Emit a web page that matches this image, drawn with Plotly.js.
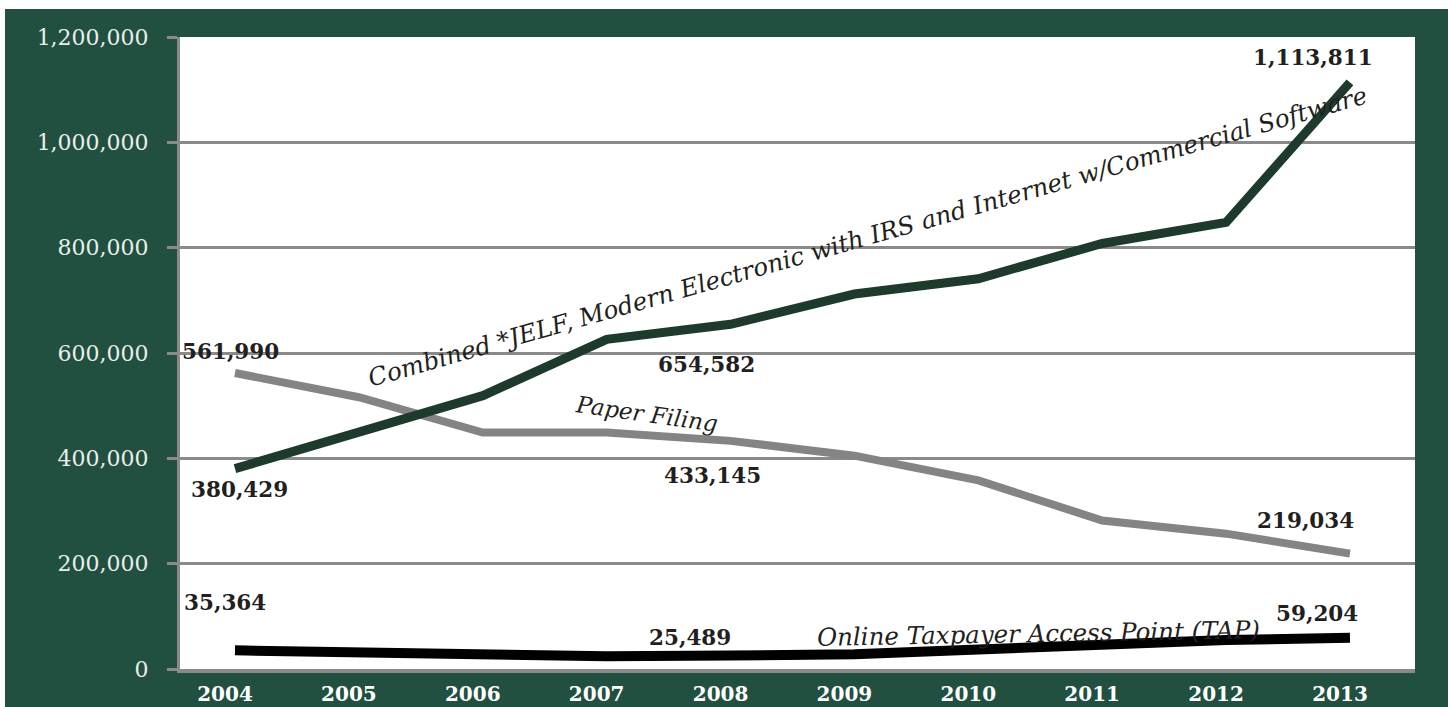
<!DOCTYPE html>
<html><head><meta charset="utf-8">
<script src="https://cdn.plot.ly/plotly-3.0.1.min.js"></script>
<style>
html,body{margin:0;padding:0;background:#ffffff;overflow:hidden;}
#chart{position:absolute;left:5px;top:9px;width:1443px;height:698px;}
</style>
</head><body><div id="chart"></div>
<script>
// ---- data ----
const years = [2004, 2005, 2006, 2007, 2008, 2009, 2010, 2011, 2012, 2013];
const combinedElectronic = [380429, 450000, 519000, 626000, 654582, 712000, 741000, 808000, 848000, 1113811];
const paperFiling = [561990, 516000, 449000, 449000, 433145, 405000, 358000, 282000, 257000, 219034];
const onlineTAP = [35364, 31000, 27000, 24000, 25489, 28000, 37000, 46000, 55000, 59204];
const yTickVals = [0, 200000, 400000, 600000, 800000, 1000000, 1200000];
const yTickText = ['0', '200,000', '400,000', '600,000', '800,000', '1,000,000', '1,200,000'];
const xTickText = ['2004', '2005', '2006', '2007', '2008', '2009', '2010', '2011', '2012', '2013'];
const seriesNames = [
  'Combined *JELF, Modern Electronic with IRS and Internet w/Commercial Software',
  'Paper Filing',
  'Online Taxpayer Access Point (TAP)'
];

// ---- styling ----
const GREEN_BG = '#214f40';
const SERIF = 'DejaVu Serif, Liberation Serif, serif';
const DARK = '#231f20';

const traces = [
  {x: years, y: paperFiling, mode: 'lines', line: {color: '#848484', width: 8}, name: seriesNames[1]},
  {x: years, y: combinedElectronic, mode: 'lines', line: {color: '#1d3a2c', width: 9}, name: seriesNames[0]},
  {x: years, y: onlineTAP, mode: 'lines', line: {color: '#000000', width: 10}, name: seriesNames[2]}
];

const series = [combinedElectronic, paperFiling, onlineTAP];
// [seriesIndex, pointIndex, xshift, yshift]
const valueLabels = [
  [0, 0, 4, -21], [0, 4, -24, -40], [0, 9, -37, 25],
  [1, 0, -5, 22], [1, 4, -18, -35], [1, 9, -44, 33],
  [2, 0, -10, 48], [2, 4, -41, 18], [2, 9, -33, 24]
];
const annotations = valueLabels.map(([s, i, dx, dy]) => ({
  x: years[i], y: series[s][i], xref: 'x', yref: 'y',
  text: series[s][i].toLocaleString('en-US'),
  showarrow: false, xshift: dx, yshift: dy,
  font: {family: SERIF, size: 21.5, color: DARK, weight: 700}
}));

// series name labels (paper coordinates)
const nameLabels = [
  {text: seriesNames[0], x: 0.557, y: 0.684, angle: -15.9, size: 24.5},
  {text: seriesNames[1], x: 0.378, y: 0.403, angle: 8, size: 23},
  {text: seriesNames[2], x: 0.695, y: 0.056, angle: -1, size: 24.5}
];
nameLabels.forEach(l => annotations.push({
  x: l.x, y: l.y, xref: 'paper', yref: 'paper', text: l.text, showarrow: false,
  textangle: l.angle, xanchor: 'center', yanchor: 'middle',
  font: {family: SERIF, size: l.size, color: DARK, style: 'italic'}
}));

const layout = {
  width: 1443, height: 698,
  paper_bgcolor: GREEN_BG, plot_bgcolor: '#ffffff',
  margin: {l: 175, r: 33, t: 28, b: 38},
  showlegend: false,
  xaxis: {
    range: [2003.556, 2013.525], tickvals: years, ticktext: xTickText,
    showgrid: false, zeroline: false, showline: true, linecolor: '#8a8a8a', linewidth: 4,
    ticks: '', ticklabelshift: -10, ticklabelstandoff: 4,
    tickfont: {family: SERIF, size: 20, color: '#ffffff', weight: 700}
  },
  yaxis: {
    range: [0, 1200000], tickvals: yTickVals, ticktext: yTickText,
    showgrid: true, gridcolor: '#8a8a8a', gridwidth: 3,
    zeroline: false, showline: true, linecolor: '#8a8a8a', linewidth: 3,
    ticks: 'outside', ticklen: 10, tickwidth: 3, tickcolor: '#8a8a8a',
    ticklabelstandoff: 14,
    tickfont: {family: SERIF, size: 22, color: '#e8efea'}
  },
  annotations: annotations
};

Plotly.newPlot('chart', traces, layout, {displayModeBar: false, staticPlot: true});
</script>
</body></html>
